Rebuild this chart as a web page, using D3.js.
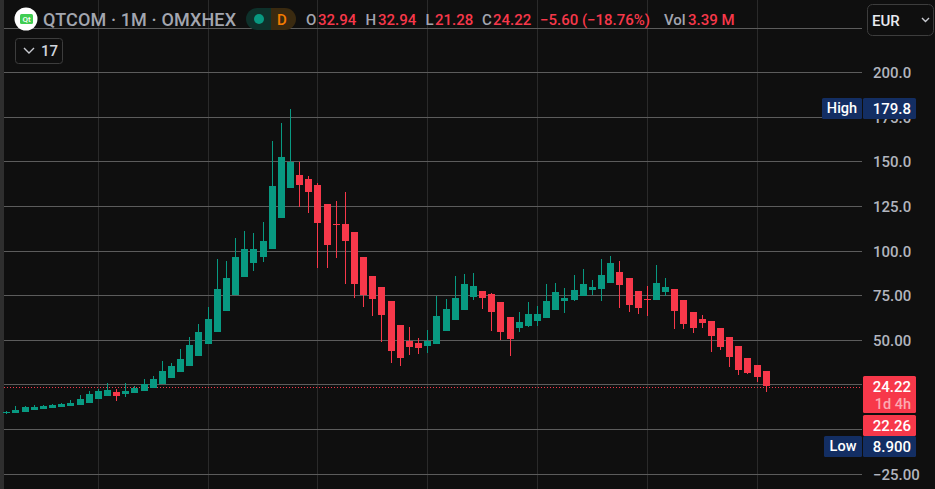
<!DOCTYPE html>
<html><head><meta charset="utf-8">
<script src="https://cdn.jsdelivr.net/npm/d3@7"></script>
<style>html,body{margin:0;padding:0;background:#0f0f0f;overflow:hidden}svg{display:block}text{font-family:Roboto,"Noto Sans",sans-serif}</style>
</head><body><svg id="c" width="935" height="489"></svg>
<script>
const open=[9.4,9.4,10.0,11.1,11.7,12.2,12.8,13.3,13.9,15.0,17.3,19.0,21.2,20.1,20.6,21.8,23.4,25.7,29.0,32.4,35.7,41.3,48.1,54.8,66.5,75.5,85.6,93.4,96.8,101.3,118.6,135.4,142.7,140.4,137.1,126.4,115.3,115.3,110.8,96.8,86.1,80.0,72.1,58.7,49.7,48.6,47.0,48.1,55.3,61.5,67.1,74.4,77.7,76.1,71.6,63.2,57.0,58.1,60.9,62.6,67.1,72.1,72.7,74.9,78.3,78.9,82.2,88.4,85.0,77.7,73.3,72.7,77.2,78.9,72.7,66.0,62.1,60.9,57.0,52.0,47.0,40.2,36.3,32.94];
const high=[10.6,13.3,13.3,13.9,13.9,14.5,15.0,16.7,19.5,21.8,22.9,26.2,22.9,26.2,24.6,28.5,30.1,38.5,37.4,45.3,52.0,59.3,68.8,95.7,94.5,107.4,111.3,110.2,116.4,161.7,171.8,179.8,150.0,142.1,138.2,126.4,128.1,133.2,110.8,96.8,86.1,80.0,72.1,58.7,57.6,51.4,55.9,74.9,73.3,86.1,87.3,87.8,77.7,76.6,71.6,63.2,66.0,71.6,69.3,81.7,82.2,79.4,86.7,90.0,83.9,95.7,97.3,94.5,85.0,77.7,80.5,92.3,85.0,78.9,72.7,66.0,64.3,60.9,57.0,52.0,47.0,40.2,36.3,32.94];
const low=[8.9,9.4,10.0,11.1,11.7,12.2,12.8,13.3,13.9,15.0,17.3,19.0,16.2,18.4,20.6,21.8,23.4,25.7,29.0,32.4,35.7,41.3,48.1,54.8,66.5,75.5,85.6,88.9,94.0,101.3,118.6,135.4,124.8,121.4,90.6,90.6,96.2,81.7,73.8,68.8,63.7,49.2,37.4,35.7,41.9,42.5,43.0,48.1,55.3,61.5,67.1,72.7,67.6,55.3,50.3,41.3,54.8,57.6,58.1,62.6,67.1,65.4,72.1,74.9,75.5,72.1,82.2,68.2,66.0,64.9,63.7,72.7,74.9,56.5,56.5,54.2,57.0,43.6,44.7,35.2,30.7,31.3,26.8,21.28];
const close=[10.0,11.1,12.8,12.8,13.3,13.9,14.5,15.0,17.3,20.1,21.8,22.3,19.0,21.8,23.4,25.7,28.5,32.9,35.7,39.7,47.5,54.8,62.1,78.9,85.0,96.8,101.3,101.3,105.7,136.5,152.8,150.0,137.1,133.2,115.8,103.5,114.7,105.7,81.7,75.5,73.3,64.3,44.1,40.2,46.4,45.8,49.7,63.7,67.6,73.8,81.7,80.5,73.8,66.0,54.8,50.9,60.4,64.9,64.9,72.1,77.2,73.8,78.3,81.7,80.0,86.7,93.4,81.1,69.9,68.2,72.7,82.2,80.0,66.5,59.3,57.0,59.8,52.5,46.4,40.8,33.5,31.8,29.6,24.22];
const yTicks=[225,200,175,150,125,100,75,50,25,0,-25];
const yLabels=["200.0","175.0","150.0","125.0","100.0","75.00","50.00","−25.00"];
const yLabelValues=[200,175,150,125,100,75,50,-25];
const xTickIndex=[10,22,34,46,58,70,82];
const lastClose=24.22, highValue=179.8, lowValue=8.9;
const UP="#089981",DOWN="#f7384a",NAVY="#132e63";

const svg=d3.select("#c");
const x=d3.scaleLinear().domain([0,83]).range([6.8,766.25]);
const y=d3.scaleLinear().domain([-25,225]).range([474.1,28.1]);
const snap=v=>Math.floor(v)+.5;
svg.append("rect").attr("width",935).attr("height",489).attr("fill","#0f0f0f");
svg.append("rect").attr("width",4).attr("height",489).attr("fill","#2e2e2e");

const grid=svg.append("g");
grid.selectAll(".v").data(xTickIndex).join("line").attr("x1",d=>snap(x(d))).attr("x2",d=>snap(x(d))).attr("y1",0).attr("y2",489).attr("stroke","#2a2a2a");
grid.selectAll(".h").data(yTicks).join("line").attr("x1",4).attr("x2",862).attr("y1",d=>snap(y(d))).attr("y2",d=>snap(y(d))).attr("stroke","#5c5c5c");

// price line
svg.append("line").attr("x1",4).attr("x2",862).attr("y1",snap(y(lastClose))+1).attr("y2",snap(y(lastClose))+1).attr("stroke",DOWN).attr("stroke-dasharray","1,2");

const idx=d3.range(open.length);
const col=i=>close[i]>=open[i]?UP:DOWN;
const c=svg.append("g");
c.selectAll(".w").data(idx).join("rect").attr("x",i=>Math.floor(x(i))).attr("width",1)
 .attr("y",i=>Math.round(y(high[i]))).attr("height",i=>Math.max(1,Math.round(y(low[i]))-Math.round(y(high[i])))).attr("fill",col);
c.selectAll(".b").data(idx).join("rect").attr("x",i=>Math.floor(x(i))-3).attr("width",7)
 .attr("y",i=>Math.round(y(Math.max(open[i],close[i])))).attr("height",i=>Math.max(1,Math.round(y(Math.min(open[i],close[i])))-Math.round(y(Math.max(open[i],close[i]))))).attr("fill",col);

// y tick labels
svg.append("g").selectAll("text").data(yLabelValues).join("text").attr("x",873).attr("y",d=>y(d)+5.5)
 .attr("fill","#b2b5be").attr("font-size",15).attr("font-weight",500).text((d,i)=>yLabels[i]);

// price labels
function box(x0,y0,w,h,f){svg.append("rect").attr("x",x0).attr("y",y0).attr("width",w).attr("height",h).attr("rx",1.5).attr("fill",f);}
function txt(x0,y0,s,f,a,fs,w){return svg.append("text").attr("x",x0).attr("y",y0).attr("fill",f).attr("text-anchor",a||"start").attr("font-size",fs||15).attr("font-weight",w||500).text(s);}
box(822,98,40,21,NAVY);box(863,98,53,21,NAVY);
txt(842,113,"High","#fff","middle",14.5);txt(911,113.5,d3.format(".1f")(highValue),"#fff","end");
box(824,436,38,21,NAVY);box(863,436,53,21,NAVY);
txt(843,451,"Low","#fff","middle",14.5);txt(911,451.5,d3.format(".3f")(lowValue),"#fff","end");
box(863,376,53,37,DOWN);box(863,415,53,21,DOWN);
txt(911,391.5,lastClose.toFixed(2),"#fff","end");txt(911,409,"1d 4h","#fbaab1","end",14.5);
txt(911,430.5,"22.26","#fff","end");

// header
svg.append("circle").attr("cx",26).attr("cy",19).attr("r",11.5).attr("fill","#fff");
svg.append("rect").attr("x",20).attr("y",14).attr("width",13).attr("height",10).attr("rx",1.5).attr("fill","#41cd52");
txt(26.5,22,"Qt","#fff","middle",8);
txt(43,26,"QTCOM · 1M · OMXHEX","#a3a6af","start",18).attr("textLength",193).attr("lengthAdjust","spacing");
svg.append("path").attr("d","M257,8 H271 V30 H257 A11,11 0 0 1 257,8Z").attr("fill","#0e312b");
svg.append("path").attr("d","M271,8 H285 A11,11 0 0 1 285,30 H271Z").attr("fill","#3a2a10");
svg.append("circle").attr("cx",259).attr("cy",19).attr("r",5).attr("fill",UP);
txt(282,25,"D","#f57c00","middle",15);
const t=svg.append("text").attr("y",25).attr("font-size",15).attr("font-weight",500).attr("fill",DOWN);
[["O",306],["32.94",318,1],["H",365.5],["32.94",378,1],["L",425.5],["21.28",435,1],["C",482],["24.22",493,1],["−5.60 (−18.76%)",540,1],["Vol",664],["3.39 M",688,1]].forEach(p=>{
  t.append("tspan").attr("x",p[1]).attr("fill",p[2]?DOWN:"#a3a6af").text(p[0]);
});
svg.append("rect").attr("x",15.5).attr("y",38.5).attr("width",47).attr("height",25).attr("rx",3).attr("fill","none").attr("stroke","#3d3d3d");
svg.append("path").attr("d","M24,48 L29,53 L34,48").attr("fill","none").attr("stroke","#c8cad0").attr("stroke-width",1.4);
txt(41,56,"17","#d1d4dc","start",15);
svg.append("rect").attr("x",867.5).attr("y",4.5).attr("width",66).attr("height",31).attr("rx",5).attr("fill","#0f0f0f").attr("stroke","#3d3d3d");
txt(872,26,"EUR","#e8eaef","start",15);
svg.append("path").attr("d","M922,18 L925.5,21.5 L929,18").attr("fill","none").attr("stroke","#c8cad0").attr("stroke-width",1.4);
</script></body></html>
